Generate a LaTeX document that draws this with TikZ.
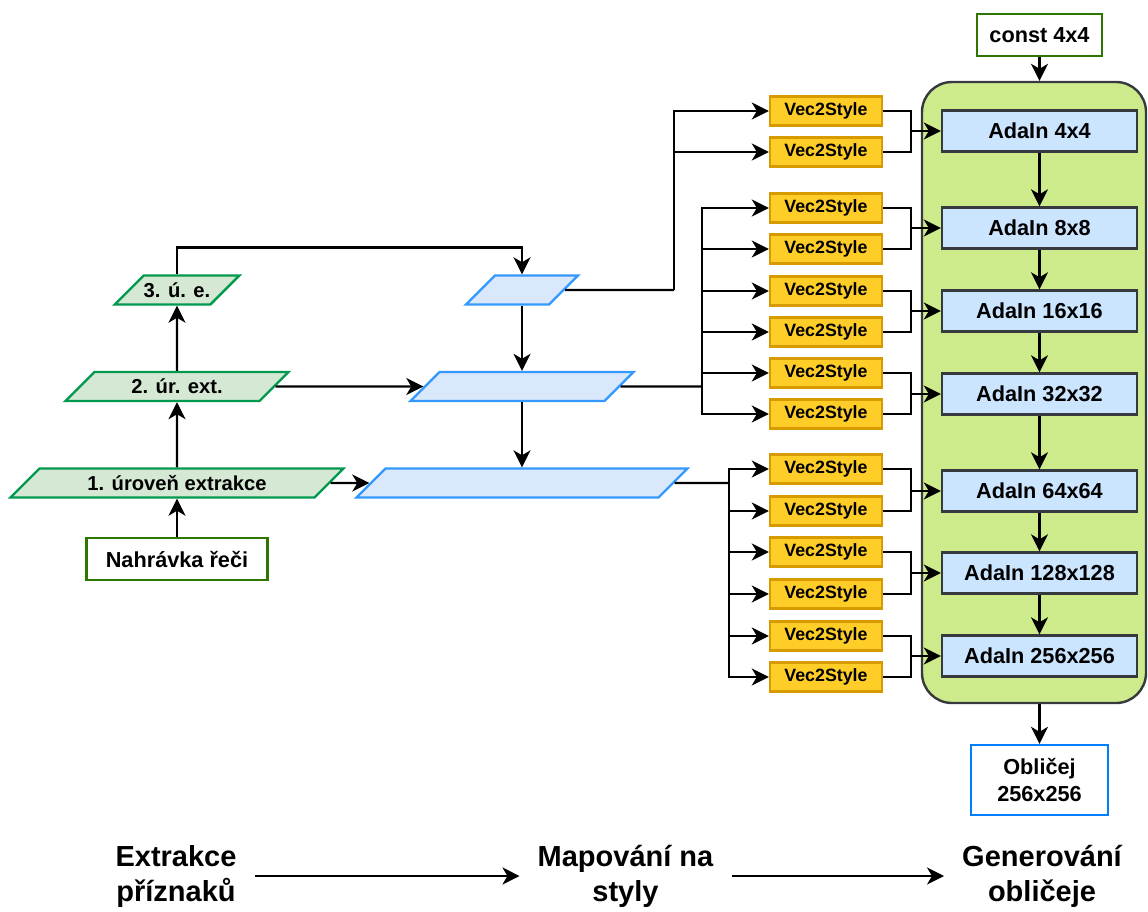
\documentclass[tikz,border=0pt]{standalone}
\usepackage{fontspec}
\setmainfont{Liberation Sans}
\usepackage{tikz}
\usetikzlibrary{arrows.meta, shapes.geometric, calc}

\definecolor{lvlfill}{HTML}{D5E8D4}
\definecolor{lvlline}{HTML}{00994D}
\definecolor{mapfill}{HTML}{DAE8FC}
\definecolor{mapline}{HTML}{3399FF}
\definecolor{vecfill}{HTML}{FFCD28}
\definecolor{vecline}{HTML}{D79B00}
\definecolor{adafill}{HTML}{CCE5FF}
\definecolor{genfill}{HTML}{CDEB8B}
\definecolor{darkline}{HTML}{36393D}
\definecolor{inline}{HTML}{2D7600}
\definecolor{outline}{HTML}{007FFF}

\begin{document}
\begin{tikzpicture}[x=1pt, y=-1pt, line width=2.4pt,
    arr/.style={-{Stealth[length=17pt, width=17pt, inset=5pt]}},
    every node/.style={inner sep=0pt, font=\bfseries},
    lvl/.style={trapezium, trapezium left angle=45, trapezium right angle=135,
        trapezium stretches body, draw=lvlline, fill=lvlfill,
        text height=21.5pt, text depth=7.5pt,
        font=\bfseries\fontsize{20.2}{24}\selectfont},
    map/.style={lvl, draw=mapline, fill=mapfill},
    io/.style={draw=inline, fill=white, minimum height=42pt,
        font=\bfseries\fontsize{21.7}{27}\selectfont},
    vec/.style={draw=vecline, fill=vecfill, minimum width=112pt, minimum height=29pt,
        font=\bfseries\fontsize{17.8}{21}\selectfont},
    ada/.style={draw=darkline, fill=adafill, minimum width=195pt, minimum height=41pt,
        font=\bfseries\fontsize{21.7}{27}\selectfont},
    phase/.style={align=center, inner xsep=17pt,
        font=\bfseries\fontsize{29}{35}\selectfont}
]
    \useasboundingbox (0, 0) rectangle (1148, 911);

    % generator block
    \node[draw=darkline, fill=genfill, rounded corners=30pt,
        minimum width=224pt, minimum height=621pt] at (1034, 392.5) (gen) {};

    % extraction levels
    \node[io, minimum width=181pt] at (177, 559) (rec) {Nahrávka řeči};
    \node[lvl, minimum width=333pt] at (177, 483) (l1) {1. úroveň extrakce};
    \node[lvl, minimum width=223pt] at (177, 386.5) (l2) {2. úr. ext.};
    \node[lvl, minimum width=113pt] at (177, 290) (l3) {3. ú. e.};
    \draw[arr] (rec) -- (l1);
    \draw[arr] (l1) -- (l2);
    \draw[arr] (l2) -- (l3);

    % mapping
    \node[map, minimum width=112pt] at (522, 290) (m3) {};
    \node[map, minimum width=223pt] at (522, 386.5) (m2) {};
    \node[map, minimum width=331pt] at (522, 483) (m1) {};
    \draw[arr] (l3.north) -- ++(0, -27) -| (m3.north);
    \draw[arr] (l2) -- (m2);
    \draw[arr] (l1) -- (m1);
    \draw[arr] (m3) -- (m2);
    \draw[arr] (m2) -- (m1);

    % vec2style
    \foreach \y [count=\i] in {111, 152, 208, 249, 291, 332, 373, 414,
                               469, 511, 552, 594, 636, 677}
        \node[vec] at (826, \y) (v\i) {Vec2Style};

    \coordinate (b3) at (674, 290);
    \coordinate (b2) at (702, 386.5);
    \coordinate (b1) at (729, 483);
    \draw (m3.east) -- (b3);
    \draw (m2.east) -- (b2);
    \draw (m1.east) -- (b1);
    \foreach \i in {1, 2}
        \draw[arr] (b3) |- (v\i.west);
    \foreach \i in {3, ..., 8}
        \draw[arr] (b2) |- (v\i.west);
    \foreach \i in {9, ..., 14}
        \draw[arr] (b1) |- (v\i.west);

    % adain layers
    \foreach \y/\s [count=\i] in {131/4x4, 228/8x8, 311/16x16, 394/32x32,
                                  491/64x64, 573/128x128, 656/256x256}
        \node[ada] at (1039.5, \y) (a\i) {AdaIn \s};
    \foreach \i/\j in {1/2, 2/3, 3/4, 4/5, 5/6, 6/7}
        \draw[arr] (a\i) -- (a\j);
    \foreach \p/\q [count=\i] in {1/2, 3/4, 5/6, 7/8, 9/10, 11/12, 13/14} {
        \coordinate (j\i) at ($(a\i.west) + (-30, 0)$);
        \draw (v\p.east) -| (j\i);
        \draw (v\q.east) -| (j\i);
        \draw[arr] (j\i) -- (a\i.west);
    }

    % input constant and output face
    \node[io, minimum width=125pt] at (1039.5, 35) (const) {const 4x4};
    \draw[arr] (const.south) -- (const.south |- gen.north);
    \node[io, draw=outline, align=center, minimum width=137pt, minimum height=70pt]
        at (1039.5, 780) (face) {Obličej\\256x256};
    \draw[arr] (face.north |- gen.south) -- (face.north);

    % phases
    \node[phase] at (176, 876) (ext) {Extrakce\\příznaků};
    \node[phase] at (625.5, 876) (sty) {Mapování na\\styly};
    \node[phase] at (1042, 876) (gnr) {Generování\\obličeje};
    \draw[arr] (ext) -- (sty);
    \draw[arr] (sty) -- (gnr);

\end{tikzpicture}
\end{document}
